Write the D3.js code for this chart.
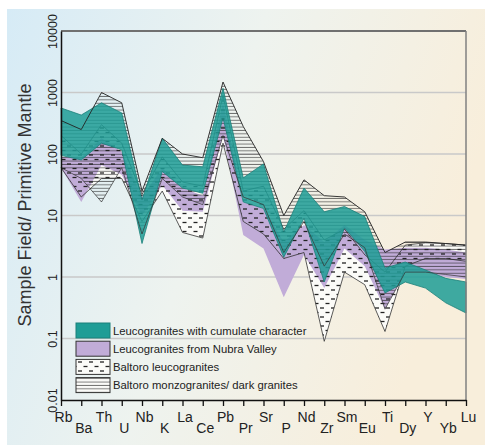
<!DOCTYPE html>
<html>
<head>
<meta charset="utf-8">
<script src="https://cdn.jsdelivr.net/npm/d3@7"></script>
<style>
html,body{margin:0;padding:0;background:#fff;}
svg{display:block;}
text{font-family:"Liberation Sans",Arial,Helvetica,sans-serif;}
</style>
</head>
<body>
<svg id="chart" width="485" height="448"></svg>
<script>
const elements = ["Rb","Ba","Th","U","Nb","K","La","Ce","Pb","Pr","Sr","P","Nd","Zr","Sm","Eu","Ti","Dy","Y","Yb","Lu"];
const yTicks = [0.01,0.1,1,10,100,1000,10000];
const yTickLabels = ["0.01","0.1","1","10","100","1000","10000"];

// Baltoro leucogranites (dotted)
const dottedUpper = [200,100,300,150,22,90,35,30,900,25,30,6,12,4,6,2.3,1.2,3.3,3.6,3.5,3.3];
const dottedLower = [60,20,40,40,8,25,5.3,4.3,150,8,5,2,2.5,0.09,1.2,0.75,0.13,1.5,2.0,2.0,1.8];
// Leucogranites from Nubra Valley (purple)
const purpleUpper = [90,87,180,108,20,59,28,21,700,16.6,13,3.7,7,3.7,7,4,2.8,3,3,2.8,2.5];
const purpleLower = [60,16.6,66,46,10,31,12,11.5,200,4.8,2.9,0.47,2.3,0.66,2.9,1.5,0.3,1.2,1.2,1.0,0.93];
// Baltoro monzogranites / dark granites (hatched)
const hatchUpper = [350,250,1000,680,25,180,100,87,1480,280,75,10,38,21,20,11.5,2.5,3.7,3.7,3.5,3.3];
const hatchLower = [60,40,16.6,60,5,40,20,15,200,20,15,2.5,8,1.5,5,3,0.3,1.2,1.2,1.1,1.0];
// Leucogranites with cumulate character (teal)
const tealUpper = [560,430,680,465,18,180,66,62,1170,41,69,5.4,28,11.5,14,9.6,1.4,1.75,1.3,0.95,0.83];
const tealLower = [95,80,150,117,3.5,52,28,23,385,16.6,13,2.1,9,0.83,6.3,2.6,0.55,0.83,0.66,0.38,0.26];

const legendLabels = ["Leucogranites with cumulate character","Leucogranites from Nubra Valley","Baltoro leucogranites","Baltoro monzogranites/ dark granites"];
const yTitle = "Sample Field/ Primitive Mantle";

const svg = d3.select("#chart");
const defs = svg.append("defs");

// background gradient
const bg = defs.append("linearGradient").attr("id","bg").attr("x1","0").attr("y1","0").attr("x2","1").attr("y2","0.3");
bg.append("stop").attr("offset","0").attr("stop-color","#d6ebf6");
bg.append("stop").attr("offset","0.5").attr("stop-color","#eef3ef");
bg.append("stop").attr("offset","1").attr("stop-color","#f8eedb");

// hatch pattern
const hp = defs.append("pattern").attr("id","hatch").attr("patternUnits","userSpaceOnUse").attr("width",6).attr("height",3.4);
hp.append("line").attr("x1",0).attr("x2",6).attr("y1",1.2).attr("y2",1.2).attr("stroke","#222").attr("stroke-width",0.75).attr("stroke-opacity",0.85);

// dotted (dash) pattern
const dp = defs.append("pattern").attr("id","dots").attr("patternUnits","userSpaceOnUse").attr("width",11).attr("height",9);
dp.append("line").attr("x1",1).attr("x2",5).attr("y1",2).attr("y2",2).attr("stroke","#222").attr("stroke-width",1.3);
dp.append("line").attr("x1",6.5).attr("x2",10.5).attr("y1",6.5).attr("y2",6.5).attr("stroke","#222").attr("stroke-width",1.3);

svg.append("rect").attr("x",7).attr("y",9).attr("width",478).attr("height",436).attr("fill","url(#bg)");

const x = d3.scalePoint().domain(elements).range([61,466]);
const y = d3.scaleLog().domain([0.01,10000]).range([400,31]);

// gridlines
svg.append("g").selectAll("line").data(yTicks.filter(v=>v>0.01 && v<10000)).join("line")
  .attr("x1",61).attr("x2",466).attr("y1",d=>y(d)).attr("y2",d=>y(d))
  .attr("stroke","#c9c9c9").attr("stroke-width",1.5);

function band(up, lo){
  return d3.area().x((d,i)=>x(elements[i])).y0((d,i)=>y(lo[i])).y1((d,i)=>y(up[i]))(up);
}
function line(vals){
  return d3.line().x((d,i)=>x(elements[i])).y(d=>y(d))(vals);
}

const g = svg.append("g");
// dotted white base
g.append("path").attr("d",band(dottedUpper,dottedLower)).attr("fill","#fbfbf8");
// purple
g.append("path").attr("d",band(purpleUpper,purpleLower)).attr("fill","#c1acd8");
// dashes over
g.append("path").attr("d",band(dottedUpper,dottedLower)).attr("fill","url(#dots)");
g.append("path").attr("d",line(dottedUpper)).attr("fill","none").attr("stroke","#333").attr("stroke-width",0.8);
g.append("path").attr("d",line(dottedLower)).attr("fill","none").attr("stroke","#333").attr("stroke-width",0.8);
// hatch
g.append("path").attr("d",band(hatchUpper,hatchLower)).attr("fill","url(#hatch)");
// teal
g.append("path").attr("d",band(tealUpper,tealLower)).attr("fill","#1f9d96").attr("fill-opacity",0.86)
  .attr("stroke","#1b807a").attr("stroke-width",0.8);
// hatch outlines
g.append("path").attr("d",line(hatchUpper)).attr("fill","none").attr("stroke","#222").attr("stroke-width",0.9);
g.append("path").attr("d",line(hatchLower)).attr("fill","none").attr("stroke","#333").attr("stroke-width",0.7);

// frame
svg.append("line").attr("x1",61).attr("x2",466).attr("y1",31).attr("y2",31).attr("stroke","#707070").attr("stroke-width",2);
svg.append("line").attr("x1",466).attr("x2",466).attr("y1",31).attr("y2",400).attr("stroke","#808080").attr("stroke-width",1.5);

// x axis
const xa = svg.append("g").attr("transform","translate(0,400)")
  .call(d3.axisBottom(x).tickSize(6).tickSizeOuter(0));
xa.select(".domain").attr("stroke","#111").attr("stroke-width",1.5);
xa.selectAll(".tick line").attr("stroke","#111").attr("stroke-width",1.3);
xa.selectAll(".tick text").attr("y",(d,i)=> i%2 ? 33 : 22).attr("dy",0).attr("x",2)
  .attr("font-size",14).attr("fill","#222").attr("font-family","'Liberation Sans',Arial,sans-serif");

// y axis
const ya = svg.append("g").attr("transform","translate(61,0)")
  .call(d3.axisLeft(y).tickValues(yTicks).tickSize(0).tickFormat((d,i)=>yTickLabels[i]));
ya.select(".domain").attr("stroke","#111").attr("stroke-width",1.5);
ya.selectAll(".tick text").attr("transform","rotate(-90)").attr("x",0).attr("y",-4).attr("dy",0)
  .attr("text-anchor","middle").attr("font-size",12.5).attr("fill","#222").attr("font-family","'Liberation Sans',Arial,sans-serif");

// y title
svg.append("text").attr("transform","translate(31,205) rotate(-90)").attr("text-anchor","middle")
  .attr("font-size",18).attr("fill","#333").text(yTitle);

// legend
const lg = svg.append("g");
const fills = ["#1f9d96","#c1acd8","url(#dots)","url(#hatch)"];
legendLabels.forEach((t,i)=>{
  const yy = 323 + i*18.2;
  if(i>=2) lg.append("rect").attr("x",76).attr("y",yy).attr("width",34).attr("height",15).attr("fill","#fbfbf8");
  lg.append("rect").attr("x",76).attr("y",yy).attr("width",34).attr("height",15).attr("fill",fills[i])
    .attr("stroke", i==0 ? "#1b807a" : "#333").attr("stroke-width",1);
  lg.append("text").attr("x",113).attr("y",yy+11.5).attr("font-size",11.3).attr("fill","#222").text(t);
});
</script>
</body>
</html>
